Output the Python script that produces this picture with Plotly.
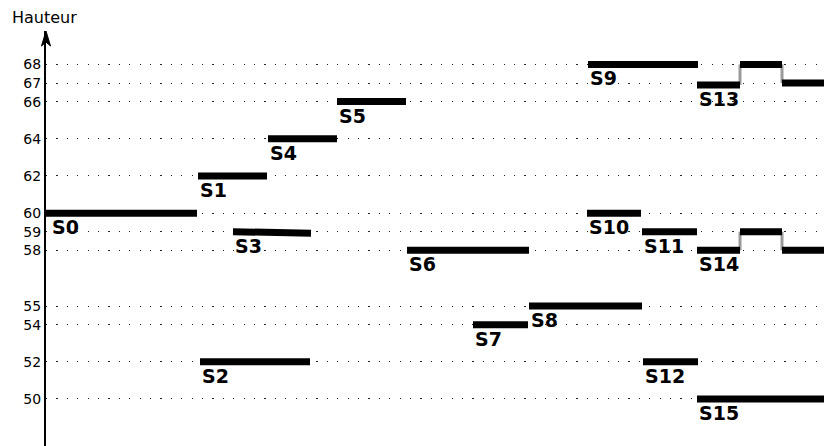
import plotly.graph_objects as go

# segments: nom, debut, fin, hauteur debut, hauteur fin
names = ["S0", "S1", "S2", "S3", "S4", "S5", "S6", "S7", "S8",
         "S9", "S10", "S11", "S12", "S15"]
starts = [0, 152, 154, 187, 222, 291, 361, 427, 483, 542, 541, 596, 597, 651]
ends = [151, 221, 264, 265, 291, 360, 483, 482, 596, 652, 595, 651, 652, 786]
h_start = [60, 62, 52, 59, 64, 66, 58, 54, 55, 68, 60, 59, 52, 50]
h_end = [60, 62, 52, 58.92, 64, 66, 58, 54, 55, 68, 60, 59, 52, 50]

# segments en escalier (S13, S14)
step_names = ["S13", "S14"]
step_times = [651, 694, 736, 786]
step_heights = [[66.9, 68, 67], [58, 59, 58]]

tick_vals = [50, 52, 54, 55, 58, 59, 60, 62, 64, 66, 67, 68]

FONT = "DejaVu Sans"
PAGE = 8  # marge du body html
W, H = 832 - PAGE, 446 - PAGE
ML, MT = 46 - PAGE, 31 - PAGE
X_MAX = W - ML
PX_PER_UNIT = 18.585
Y_TOP = 69.80
Y_RANGE = [Y_TOP - (H - MT) / PX_PER_UNIT, Y_TOP]

fig = go.Figure()

# transitions grises des escaliers
for heights in step_heights:
    for i in range(1, len(heights)):
        t = step_times[i]
        fig.add_trace(go.Scatter(
            x=[t, t], y=[heights[i - 1], heights[i]],
            mode="lines", line=dict(color="#9a9a9a", width=3),
            hoverinfo="skip", showlegend=False
        ))

annotations = []


def label(name, x, y):
    # etiquette en gras sous le debut du segment
    return dict(
        x=x, y=y, xref="x", yref="y", text=name, showarrow=False,
        xanchor="left", yanchor="top", yshift=-1,
        xshift=4 if x == 0 else 0,
        font=dict(family=FONT, size=19, color="black", weight="bold")
    )


# segments simples
for name, x0, x1, y0, y1 in zip(names, starts, ends, h_start, h_end):
    fig.add_trace(go.Scatter(
        x=[x0, x1], y=[y0, y1], mode="lines",
        line=dict(color="black", width=7),
        hoverinfo="skip", showlegend=False
    ))
    annotations.append(label(name, x0, y0))

# escaliers
for name, heights in zip(step_names, step_heights):
    for i, h in enumerate(heights):
        fig.add_trace(go.Scatter(
            x=[step_times[i], step_times[i + 1]], y=[h, h], mode="lines",
            line=dict(color="black", width=7),
            hoverinfo="skip", showlegend=False
        ))
    annotations.append(label(name, step_times[0], heights[0]))

# titre de l'axe
annotations.append(dict(
    x=(10 - PAGE - ML) / X_MAX, y=1 + (MT - (18 - PAGE)) / (H - MT),
    xref="paper", yref="paper",
    text="Hauteur", showarrow=False, xanchor="left", yanchor="middle",
    font=dict(family=FONT, size=16, color="black")
))

# pointe de fleche de l'axe
dx = 4.5 / X_MAX
dy_long = 15 / (H - MT)
dy_in = 11 / (H - MT)
arrow_path = (f"M 0 1 L {-dx} {1 - dy_long} L 0 {1 - dy_in} "
              f"L {dx} {1 - dy_long} Z")

fig.update_layout(
    width=W, height=H,
    margin=dict(l=ML, r=0, t=MT, b=0, autoexpand=False),
    paper_bgcolor="white", plot_bgcolor="white",
    font=dict(family=FONT, color="black"),
    annotations=annotations,
    shapes=[dict(type="path", path=arrow_path, xref="paper", yref="paper",
                 fillcolor="black", line=dict(color="black", width=1))],
    xaxis=dict(range=[0, X_MAX], visible=False, fixedrange=True,
               automargin=False),
    yaxis=dict(
        range=Y_RANGE, tickvals=tick_vals, ticks="", automargin=False,
        tickfont=dict(family=FONT, size=14, color="black"),
        showline=True, linecolor="black", linewidth=2,
        showgrid=True, gridcolor="#222", gridwidth=1.2,
        griddash="1.2px,9.2px", zeroline=False, fixedrange=True,
    ),
)

fig.write_html("out.html")
